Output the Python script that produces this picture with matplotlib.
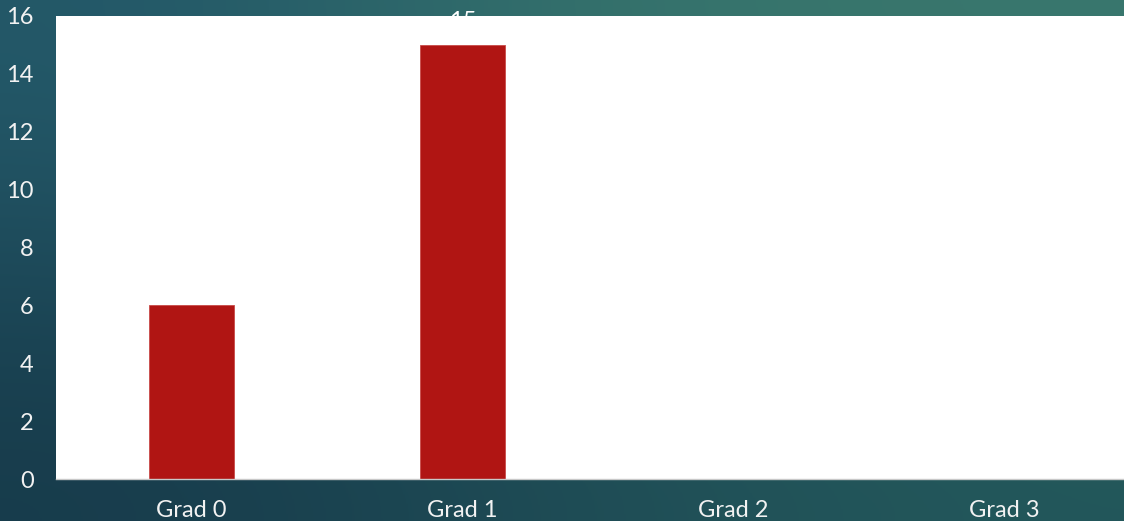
import numpy as np
import matplotlib.pyplot as plt
from matplotlib.colors import to_rgb

# Data
categories = ['Grad 0', 'Grad 1', 'Grad 2', 'Grad 3']
values = [6, 15, 0, 0]
yticks = [0, 2, 4, 6, 8, 10, 12, 14, 16]

plt.rcParams['font.family'] = ['Lato', 'DejaVu Sans']

fig = plt.figure(figsize=(11.24, 5.21), dpi=100)

# teal gradient background
top = ['#235869', '#36746d', '#3a786e']
bottom = ['#173b4b', '#1e4b55', '#22565a']
grad = np.array([[to_rgb(c) for c in top], [to_rgb(c) for c in bottom]])
bg = fig.add_axes([0, 0, 1, 1], zorder=-2)
bg.imshow(grad, aspect='auto', interpolation='bicubic', extent=[0, 1, 0, 1])
bg.axis('off')

ax = fig.add_axes([56 / 1124, 42 / 521, 1084 / 1124, 463 / 521])
ax.set_facecolor('white')
x = np.arange(len(categories))
ax.bar(x, values, width=0.315, color='#b01513', edgecolor='#c84a48', linewidth=0.6)
ax.set_xlim(-0.5, 3.5)
ax.set_ylim(0, 16)
ax.set_yticks(yticks)
ax.set_xticks(x)
ax.set_xticklabels(categories)
ax.tick_params(axis='both', length=0, colors='#f2f2f2', labelsize=17)
ax.tick_params(axis='y', pad=16)
ax.tick_params(axis='x', pad=15)
for s in ['top', 'right', 'left']:
    ax.spines[s].set_visible(False)
ax.spines['bottom'].set_color('#c8c8c8')
ax.spines['bottom'].set_linewidth(1)

# data label for the tall bar sits behind the white plot area
fig.text(x[1], 15.8, str(values[1]), transform=ax.transData, zorder=-1,
         ha='center', va='center', color='white', fontsize=17)

fig.savefig('out.png', dpi=100)
